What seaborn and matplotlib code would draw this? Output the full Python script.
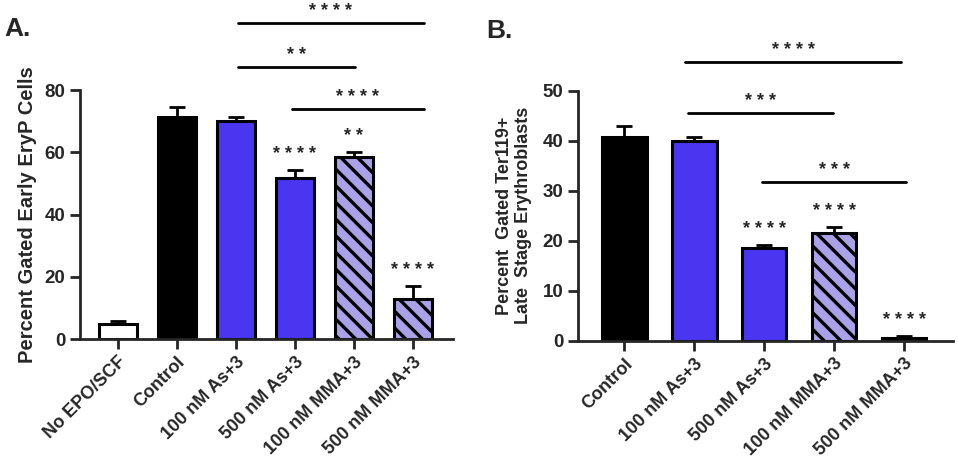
import numpy as np
import matplotlib
matplotlib.use("Agg")
import matplotlib.pyplot as plt
import seaborn as sns

sns.set_style("ticks")
plt.rcParams["font.family"] = ["Liberation Sans", "DejaVu Sans"]
plt.rcParams["font.weight"] = "bold"
plt.rcParams["hatch.linewidth"] = 2.4
plt.rcParams["hatch.color"] = "#161630"

# panel A - early EryP
groups_a = ["No EPO/SCF", "Control", "100 nM As+3", "500 nM As+3", "100 nM MMA+3", "500 nM MMA+3"]
means_a = [4.9, 71.4, 70.0, 51.9, 58.6, 12.9]
sem_a = [0.8, 3.0, 1.2, 2.4, 1.4, 4.2]
stars_a = ["", "", "", "****", "**", "****"]
# (start, end, height, label)
brackets_a = [(2.03, 5.19, 101.7, "****"), (2.03, 4.02, 87.5, "**"), (2.95, 5.19, 74.0, "****")]

# panel B - late stage Ter119+
groups_b = ["Control", "100 nM As+3", "500 nM As+3", "100 nM MMA+3", "500 nM MMA+3"]
means_b = [40.7, 40.0, 18.5, 21.5, 0.6]
sem_b = [2.2, 0.8, 0.6, 1.3, 0.3]
stars_b = ["", "", "****", "****", "****"]
brackets_b = [(0.87, 3.96, 55.8, "****"), (0.91, 2.99, 45.5, "***"), (1.97, 4.03, 31.8, "***")]

blue = "#4a35f0"
lav = "#aaa2e8"
colors = {"No EPO/SCF": "white", "Control": "black", "100 nM As+3": blue,
          "500 nM As+3": blue, "100 nM MMA+3": lav, "500 nM MMA+3": lav}


def spaced(s):
    return " ".join(s)


def draw(ax, groups, means, sem, stars, brackets, ylim, ytop, yticks, xlim):
    sns.barplot(x=groups, y=means, hue=groups, palette=colors, legend=False, saturation=1,
                width=0.64, edgecolor="black", linewidth=2.2, ax=ax, zorder=2)
    for p, g in zip(ax.patches, groups):
        if "MMA" in g:
            p.set_hatch("\\\\")
    x = np.arange(len(groups))
    ax.errorbar(x, means, yerr=[np.zeros(len(sem)), sem], fmt="none", ecolor="black",
                elinewidth=2, capsize=5.5, capthick=2, zorder=1)
    for xi, m, e, s in zip(x, means, sem, stars):
        if s:
            ax.annotate(spaced(s), xy=(xi, m + e), xytext=(0, 5), textcoords="offset points",
                        ha="center", va="bottom", fontsize=13, fontweight="bold", annotation_clip=False)
    for x0, x1, yb, s in brackets:
        ax.plot([x0, x1], [yb, yb], color="black", lw=2, clip_on=False)
        ax.annotate(spaced(s), xy=((x0 + x1) / 2, yb), xytext=(0, 2), textcoords="offset points",
                    ha="center", va="bottom", fontsize=13, fontweight="bold", annotation_clip=False)
    ax.set_ylim(*ylim)
    ax.set_xlim(*xlim)
    ax.set_yticks(yticks)
    ax.spines["left"].set_bounds(0, ytop)
    ax.spines["right"].set_visible(False)
    ax.spines["top"].set_visible(False)
    ax.spines["left"].set_linewidth(2)
    ax.spines["bottom"].set_linewidth(2)
    ax.tick_params(axis="both", width=2, length=7, labelsize=13.5)
    ax.set_xticks(x)
    ax.set_xticklabels(groups, rotation=45, ha="right", rotation_mode="anchor", fontsize=13)
    for lab in ax.get_yticklabels():
        lab.set_fontweight("bold")


fig = plt.figure(figsize=(9.58, 4.67), dpi=100)
ax_a = fig.add_axes([80 / 958, 0.274, 373 / 958, 0.6998])
ax_b = fig.add_axes([578 / 958, 0.2705, 375 / 958, 0.621])

draw(ax_a, groups_a, means_a, sem_a, stars_a, brackets_a, (0, 105), 80, [0, 20, 40, 60, 80], (-0.64, 5.68))
draw(ax_b, groups_b, means_b, sem_b, stars_b, brackets_b, (0, 58), 50, [0, 10, 20, 30, 40, 50], (-0.66, 4.7))

ax_a.set_ylabel("Percent Gated Early EryP Cells", fontsize=14.5, fontweight="bold")
ax_a.yaxis.set_label_coords(-0.115, 40 / 105)
ax_b.set_ylabel("Percent  Gated Ter119+\nLate  Stage Erythroblasts", fontsize=13, fontweight="bold")
ax_b.yaxis.set_label_coords(-0.122, 25 / 58)

fig.text(4 / 958, 1 - 36 / 467, "A.", fontsize=19, fontweight="bold")
fig.text(486 / 958, 1 - 38 / 467, "B.", fontsize=19, fontweight="bold")

fig.savefig("out.png", dpi=100, facecolor="white")
